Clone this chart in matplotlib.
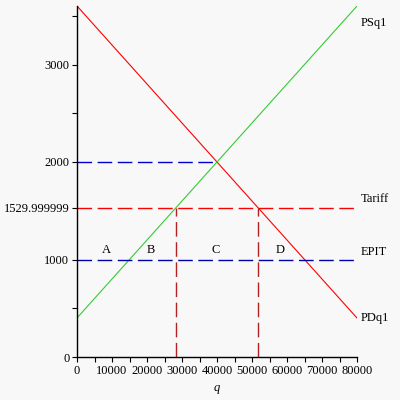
import matplotlib.pyplot as plt
import numpy as np

# demande / offre (lineaires)
q = [0, 80000]
pd_q1 = [3600, 400]
ps_q1 = [400, 3600]

tarif = 1529.999999
epit = 1000
p_eq = 2000
q_eq = 40000
q_s_tarif = 28250
q_d_tarif = 51750

zones = ["A", "B", "C", "D"]
zones_x = [8500, 21000, 39500, 58000]
zones_y = [1100, 1100, 1100, 1100]

plt.rcParams["font.family"] = ["Liberation Serif", "DejaVu Serif"]
plt.rcParams["font.size"] = 9

fig = plt.figure(figsize=(4, 4), dpi=100, facecolor="#f8f8f8")
ax = fig.add_axes([77 / 400, 43 / 400, 280 / 400, 351 / 400], facecolor="#f8f8f8")

tirets = (0, (10.5, 4))
ax.plot(q, pd_q1, color="#ff0000", lw=0.8)
ax.plot(q, ps_q1, color="#33cc33", lw=0.8)
ax.plot([0, q_eq], [p_eq, p_eq], color="#0000cc", lw=1, linestyle=tirets)
ax.plot(q, [tarif, tarif], color="#ff0000", lw=1, linestyle=tirets)
ax.plot(q, [epit, epit], color="#0000aa", lw=1, linestyle=tirets)
ax.plot([q_s_tarif, q_s_tarif], [0, tarif], color="#b22222", lw=1, linestyle=tirets)
ax.plot([q_d_tarif, q_d_tarif], [0, tarif], color="#b22222", lw=1, linestyle=tirets)

for lettre, x, y in zip(zones, zones_x, zones_y):
    ax.text(x, y, lettre, ha="center", va="center", fontsize=9)

ax.text(81000, 3430, "PSq1", va="center", fontsize=9)
ax.text(81000, 1620, "Tariff", va="center", fontsize=9)
ax.text(81000, 1080, "EPIT", va="center", fontsize=9)
ax.text(81000, 400, "PDq1", va="center", fontsize=9)

ax.set_xlim(0, 80000)
ax.set_ylim(0, 3600)
ax.set_xticks(np.arange(0, 80001, 10000))
ax.set_xticks(np.arange(5000, 80000, 10000), minor=True)
ax.set_yticks([0, 1000, tarif, 2000, 3000])
ax.set_yticklabels(["0", "1000", "1529.999999", "2000", "3000"])
ax.set_yticks([500, 2500, 3500], minor=True)
ax.tick_params(which="both", length=3.5, width=0.8, pad=2)
ax.set_xlabel("q", style="italic", labelpad=4)

for s in ["top", "right"]:
    ax.spines[s].set_visible(False)
for s in ["left", "bottom"]:
    ax.spines[s].set_linewidth(1)

fig.savefig("out.png", dpi=100, facecolor=fig.get_facecolor())
